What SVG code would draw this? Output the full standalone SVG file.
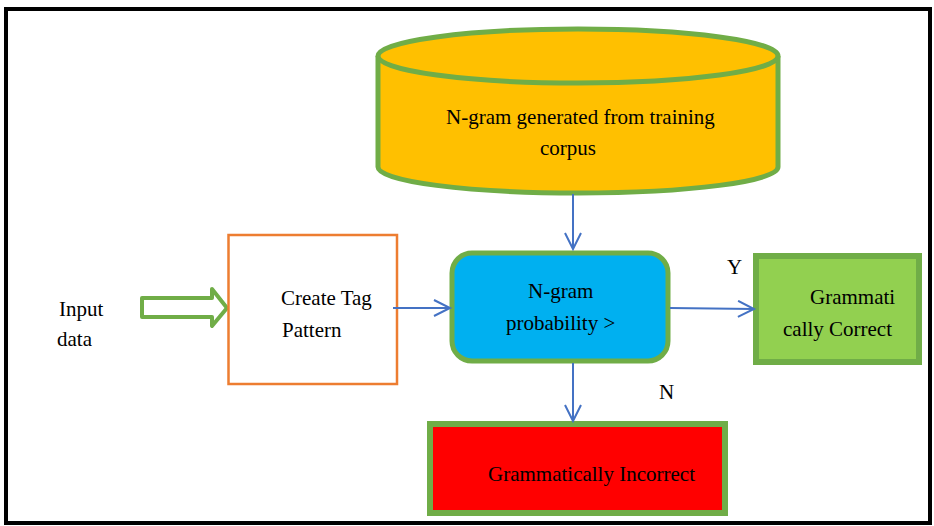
<svg xmlns="http://www.w3.org/2000/svg" width="934" height="526" viewBox="0 0 934 526">
<style>
text{font-family:"Liberation Serif","Times New Roman",serif;font-size:21px;fill:#000}
.conn{stroke:#4472C4;stroke-width:2;fill:none}
.grn{stroke:#70AD47}
</style>
<defs>
<marker id="open" markerWidth="20" markerHeight="20" refX="17" refY="9" orient="auto" markerUnits="userSpaceOnUse">
<path d="M1,1 L17,9 L1,17" fill="none" stroke="#4472C4" stroke-width="2"/>
</marker>
</defs>
<rect x="0" y="0" width="934" height="526" fill="#fff"/>
<rect x="6" y="9" width="924" height="514" fill="none" stroke="#000" stroke-width="4"/>

<g id="corpus">
<path d="M378,56 L378,167 A200,26 0 0 0 778,167 L778,56" fill="#FFC000" stroke="#70AD47" stroke-width="5"/>
<ellipse cx="578" cy="56" rx="200" ry="27" fill="#FFC000" stroke="#70AD47" stroke-width="5"/>
<text x="446" y="124">N-gram generated from training</text>
<text x="540" y="155">corpus</text>
</g>

<g id="input">
<text x="59" y="316">Input</text>
<text x="57" y="346">data</text>
<path d="M142,298 L212,298 L212,289 L227,308 L212,326 L212,317 L142,317 Z" fill="#fff" stroke="#70AD47" stroke-width="4" stroke-linejoin="round"/>
</g>

<g id="tag">
<rect x="228.5" y="235" width="168.5" height="149" fill="#fff" stroke="#ED7D31" stroke-width="2.5"/>
<text x="281" y="305">Create Tag</text>
<text x="282" y="337">Pattern</text>
</g>

<g id="prob">
<rect x="452" y="253" width="216" height="108" rx="20" fill="#00B0F0" stroke="#70AD47" stroke-width="5"/>
<text x="528" y="298">N-gram</text>
<text x="506" y="330">probability &gt;</text>
</g>

<g id="correct">
<rect x="756" y="256" width="163" height="106" fill="#92D050" stroke="#70AD47" stroke-width="6"/>
<text x="810" y="304">Grammati</text>
<text x="783" y="336">cally Correct</text>
</g>

<g id="incorrect">
<rect x="430" y="424" width="295" height="89" fill="#FF0000" stroke="#70AD47" stroke-width="6"/>
<text x="488" y="481">Grammatically Incorrect</text>
</g>

<g id="labels">
<text x="727" y="274">Y</text>
<text x="659" y="399">N</text>
</g>

<g id="connectors">
<line class="conn" x1="573" y1="194" x2="573" y2="249" marker-end="url(#open)"/>
<line class="conn" x1="393" y1="308" x2="450" y2="308" marker-end="url(#open)"/>
<line class="conn" x1="670" y1="308" x2="754" y2="309" marker-end="url(#open)"/>
<line class="conn" x1="573" y1="363" x2="573" y2="421" marker-end="url(#open)"/>
</g>
</svg>
